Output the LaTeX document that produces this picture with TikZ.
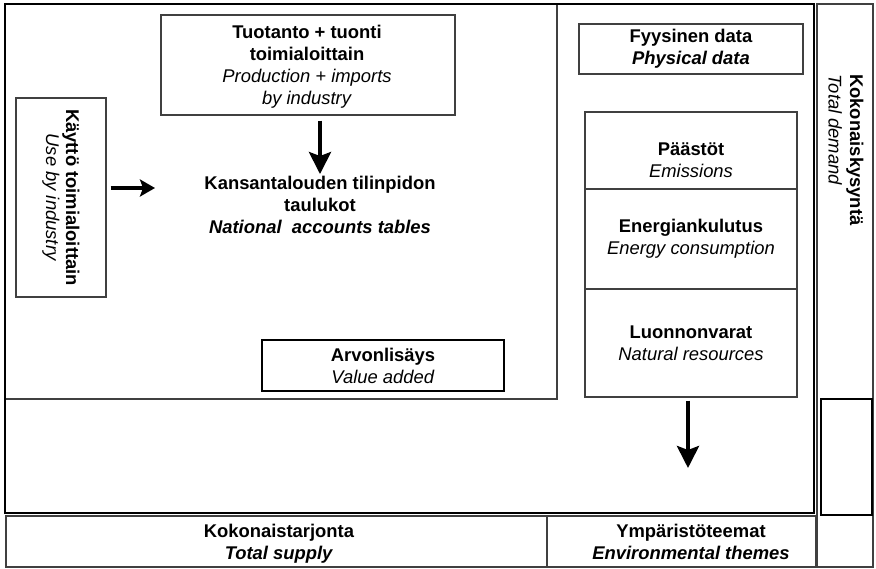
\documentclass[tikz,border=0pt]{standalone}
\usepackage{fontspec}
\setmainfont{Liberation Sans}
\usetikzlibrary{arrows.meta}
\begin{document}
\begin{tikzpicture}[x=1pt,y=-1pt,
  thinbox/.style={draw=black!75, line width=1.1pt, inner sep=0pt},
  thickbox/.style={draw=black, line width=2.4pt, inner sep=0pt},
  txt/.style={align=center, font=\fontsize{18.4}{22}\selectfont, inner sep=0pt},
  bigarrow/.style={line width=4pt, -{Stealth[length=22pt,width=22pt,inset=4pt]}},
  smallarrow/.style={line width=4pt, -{Stealth[length=15pt,width=17pt,inset=3pt]}},
]
\useasboundingbox (0,0) rectangle (876,568);
% frames
\draw[thinbox] (5,4) rectangle (557,399);
\draw[line width=2.6pt] (5,4) rectangle (814,513);
\draw[thinbox] (817,4) rectangle (873,567);

% left part
\node[thinbox, minimum width=294pt, minimum height=100pt] (tuot) at (308,65) {};
\node[txt] (tuottxt) at (307,67)
  {\textbf{Tuotanto + tuonti}\\\textbf{toimialoittain}\\\textit{Production + imports}\\\textit{by industry}};
\node[thinbox, txt, rotate=-90, minimum width=199pt, minimum height=90pt, font=\fontsize{18.4}{20}\selectfont] (kaytto) at (61,197.5)
  {\textbf{Käyttö toimialoittain}\\\textit{Use by industry}};
\node[txt] (kansa) at (320,205)
  {\textbf{Kansantalouden tilinpidon}\\\textbf{taulukot}\\\textbf{\textit{National\ \ accounts tables}}};
\node[thickbox, txt, line width=2.2pt, minimum width=242pt, minimum height=51pt] (arvo) at (383,365.5)
  {\textbf{Arvonlisäys}\\\textit{Value added}};

% right part
\node[thinbox, txt, minimum width=224pt, minimum height=50pt] (fyys) at (691,49)
  {\textbf{Fyysinen data}\\\textbf{\textit{Physical data}}};
\node[thinbox, minimum width=212pt, minimum height=77pt] (paast) at (691,150.5) {};
\node[txt] (paastT) at (691,160) {\textbf{Päästöt}\\\textit{Emissions}};
\node[thinbox, txt, minimum width=212pt, minimum height=100pt] (energ) at (691,239)
  {\textbf{Energiankulutus}\\\textit{Energy consumption}};
\node[thinbox, txt, minimum width=212pt, minimum height=108pt] (luon) at (691,343)
  {\textbf{Luonnonvarat}\\\textit{Natural resources}};

% right column
\node[txt, rotate=-90, anchor=west, align=left, font=\fontsize{18.4}{21.5}\selectfont] (demand) at (846,74)
  {\textbf{Kokonaiskysyntä}\\\textit{Total demand}};
\node[thickbox, minimum width=51pt, minimum height=116pt] (demandbox) at (846.5,457) {};

% bottom row
\node[thinbox, minimum width=541pt, minimum height=51pt] (supply) at (276.5,541.5) {};
\node[txt] (supplytxt) at (279,544)
  {\textbf{Kokonaistarjonta}\\\textbf{\textit{Total supply}}};
\node[thinbox, minimum width=269pt, minimum height=51pt] (envbox) at (681.5,541.5) {};
\node[txt] (envtxt) at (691,541.5)
  {\textbf{Ympäristöteemat}\\\textbf{\textit{Environmental themes}}};

% arrows
\coordinate (a1end) at (155,188);
\draw[smallarrow, shorten <=4pt] (kaytto.north |- a1end) -- (a1end);
\draw[bigarrow, shorten <=5pt, shorten >=2pt] (tuot.south -| kansa.north) -- (kansa.north);
\coordinate (a3end) at (688,468);
\draw[bigarrow, shorten <=3pt] (luon.south -| a3end) -- (a3end);
\end{tikzpicture}
\end{document}
